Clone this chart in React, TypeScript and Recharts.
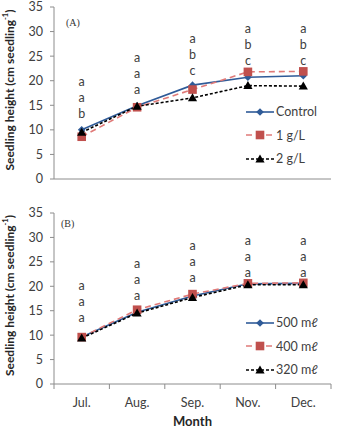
import React from "react";
import {
  Legend,
  Line,
  LineChart,
  XAxis,
  YAxis,
} from "recharts";

const MONTHS = ["Jul.", "Aug.", "Sep.", "Nov.", "Dec."];

// panel A
const CONTROL = [10.0, 14.9, 19.1, 20.7, 21.0];
const G1 = [8.6, 14.6, 18.2, 21.8, 21.9];
const G2 = [9.5, 14.8, 16.5, 19.0, 18.9];
const LETTERS_A = [["a", "a", "b"], ["a", "a", "a"], ["a", "b", "c"], ["a", "b", "c"], ["a", "b", "c"]];
const LETTER_BASE_A = [13.3, 18.2, 22.0, 24.1, 24.1];

// panel B
const ML500 = [9.6, 14.7, 18.0, 20.5, 20.6];
const ML400 = [9.6, 15.2, 18.4, 20.6, 20.7];
const ML320 = [9.4, 14.5, 17.7, 20.3, 20.3];
const LETTERS_B = [["a", "a", "a"], ["a", "a", "a"], ["a", "a", "a"], ["a", "a", "a"], ["a", "a", "a"]];
const LETTER_BASE_B = [13.7, 18.2, 21.8, 22.8, 22.8];

const Y_TICKS = [0, 5, 10, 15, 20, 25, 30, 35];

const FONT = "Lato, 'Open Sans', sans-serif";
const AXIS = "#8c8c8c";
const BOX = "#c8c8c8";
const TXT = "#404040";
const FS = 12.5;

const BLUE = "#2f5b98";
const RED = "#c0504d";
const RED_LINE = "#e07a78";

type Marker = "diamond" | "square" | "triangle";

interface SeriesDef {
  key: string;
  name: string;
  values: number[];
  stroke: string;
  fill: string;
  dash?: string;
  marker: Marker;
}

function drawMarker(marker: Marker, cx: number, cy: number, fill: string, key?: string | number) {
  if (marker === "diamond") {
    const r = 3.8;
    return <path key={key} d={`M${cx},${cy - r}L${cx + r},${cy}L${cx},${cy + r}L${cx - r},${cy}Z`} fill={fill} />;
  }
  if (marker === "square") {
    const r = 4.3;
    return <rect key={key} x={cx - r} y={cy - r} width={2 * r} height={2 * r} fill={fill} />;
  }
  const r = 4.6;
  return <path key={key} d={`M${cx},${cy - r}L${cx + r},${cy + r * 0.75}L${cx - r},${cy + r * 0.75}Z`} fill={fill} />;
}

function LegendBox({ series }: { series: SeriesDef[] }) {
  return (
    <div style={{ fontFamily: FONT, fontSize: FS, color: TXT }}>
      {series.map((s) => (
        <div key={s.key} style={{ display: "flex", alignItems: "center", height: 23.5 }}>
          <svg width={28} height={12} style={{ marginRight: 2 }}>
            <line x1={0} y1={6} x2={28} y2={6} stroke={s.stroke} strokeWidth={1.6} strokeDasharray={s.dash} />
            {drawMarker(s.marker, 14, 6, s.fill)}
          </svg>
          <span>{s.name}</span>
        </div>
      ))}
    </div>
  );
}

function Panel({
  series,
  letters,
  letterBase,
  tag,
  height,
  margin,
  showMonths,
  legendTop,
}: {
  series: SeriesDef[];
  letters: string[][];
  letterBase: number[];
  tag: string;
  height: number;
  margin: { top: number; right: number; bottom: number; left: number };
  showMonths: boolean;
  legendTop: number;
}) {
  const data = MONTHS.map((m, i) => {
    const row: Record<string, number | string> = { m, base: letterBase[i] };
    series.forEach((s) => (row[s.key] = s.values[i]));
    return row;
  });

  const letterLabel = (props: any) => {
    const { x, y, index } = props;
    const ls = letters[index];
    if (!ls) return null;
    return (
      <g>
        {ls.map((l, j) => (
          <text
            key={j}
            x={x}
            y={y - (ls.length - 1 - j) * 16}
            textAnchor="middle"
            dominantBaseline="central"
            fontFamily={FONT}
            fontSize={FS}
            fill={TXT}
          >
            {l}
          </text>
        ))}
      </g>
    );
  };

  const monthTick = (props: any) => {
    const { x, y, payload, index } = props;
    const band = 55.4;
    return (
      <g>
        <line x1={x - band / 2} y1={y} x2={x - band / 2} y2={y + 5} stroke={AXIS} />
        {index === MONTHS.length - 1 && (
          <line x1={x + band / 2} y1={y} x2={x + band / 2} y2={y + 5} stroke={AXIS} />
        )}
        <text x={x} y={y + 18} textAnchor="middle" dominantBaseline="central" fontFamily={FONT} fontSize={FS} fill={TXT}>
          {payload.value}
        </text>
      </g>
    );
  };

  return (
    <div style={{ position: "relative", width: 337, height }}>
      <LineChart width={337} height={height} data={data} margin={margin}>
        <XAxis
          dataKey="m"
          scale="band"
          height={showMonths ? 44 : 1}
          axisLine={{ stroke: AXIS }}
          tickLine={false}
          tickSize={0}
          tickMargin={0}
          tick={showMonths ? monthTick : false}
          interval={0}
          label={
            showMonths
              ? {
                  content: (p: any) => {
                    const vb = p.viewBox;
                    return (
                      <text
                        x={vb.x + vb.width / 2}
                        y={vb.y + 37}
                        textAnchor="middle"
                        dominantBaseline="central"
                        fontFamily={FONT}
                        fontWeight="bold"
                        fontSize={13}
                        fill="#262626"
                      >
                        Month
                      </text>
                    );
                  },
                }
              : undefined
          }
        />
        <XAxis xAxisId="top" dataKey="m" scale="band" orientation="top" height={0} tick={false} tickLine={false} axisLine={{ stroke: BOX }} />
        <YAxis
          domain={[0, 35]}
          ticks={Y_TICKS}
          width={54}
          axisLine={{ stroke: AXIS }}
          tickLine={{ stroke: AXIS }}
          tickSize={4}
          tickMargin={7}
          tick={{ fontFamily: FONT, fontSize: FS, fill: TXT }}
          interval={0}
          label={{
            content: (p: any) => {
              const vb = p.viewBox;
              const cx = 9;
              const cy = vb.y + vb.height / 2 - 3;
              return (
                <text
                  x={cx}
                  y={cy}
                  transform={`rotate(-90 ${cx} ${cy})`}
                  textAnchor="middle"
                  dominantBaseline="central"
                  fontFamily={FONT}
                  fontWeight="bold"
                  fontSize={12}
                  fill="#262626"
                >
                  Seedling height (cm seedling
                  <tspan fontSize={7.5} dy={-4}>-1</tspan>
                  <tspan dy={4}>)</tspan>
                </text>
              );
            },
          }}
        />
        <YAxis yAxisId="right" orientation="right" width={0} domain={[0, 35]} tick={false} tickLine={false} axisLine={{ stroke: BOX }} />
        <Legend
          layout="horizontal"
          verticalAlign="middle"
          align="center"
          wrapperStyle={{ position: "absolute", left: 246, top: legendTop, width: 90 }}
          content={() => <LegendBox series={series} />}
        />
        {series.map((s) => (
          <Line
            key={s.key}
            dataKey={s.key}
            name={s.name}
            stroke={s.stroke}
            strokeWidth={1.6}
            strokeDasharray={s.dash}
            isAnimationActive={false}
            dot={(p: any) => drawMarker(s.marker, p.cx, p.cy, s.fill, p.index)}
            activeDot={false}
          />
        ))}
        <Line
          dataKey="base"
          stroke="none"
          dot={false}
          activeDot={false}
          legendType="none"
          isAnimationActive={false}
          label={letterLabel}
        />
      </LineChart>
      <div
        style={{
          position: "absolute",
          left: tag === "(A)" ? 66 : 61,
          top: tag === "(A)" ? 17 : 23,
          fontFamily: "'Liberation Serif', serif",
          fontSize: 10,
          color: "#333",
        }}
      >
        {tag}
      </div>
    </div>
  );
}

const SERIES_A: SeriesDef[] = [
  { key: "c", name: "Control", values: CONTROL, stroke: BLUE, fill: BLUE, marker: "diamond" },
  { key: "g1", name: "1 g/L", values: G1, stroke: RED_LINE, fill: RED, dash: "6 4", marker: "square" },
  { key: "g2", name: "2 g/L", values: G2, stroke: "#000", fill: "#000", dash: "3 2", marker: "triangle" },
];

const SERIES_B: SeriesDef[] = [
  { key: "a", name: "500 mℓ", values: ML500, stroke: BLUE, fill: BLUE, marker: "diamond" },
  { key: "b", name: "400 mℓ", values: ML400, stroke: RED_LINE, fill: RED, dash: "6 4", marker: "square" },
  { key: "d", name: "320 mℓ", values: ML320, stroke: "#000", fill: "#000", dash: "3 2", marker: "triangle" },
];

export default function App() {
  return (
    <div style={{ position: "absolute", left: 0, top: 0, width: 337, height: 428, background: "#fff" }}>
      <Panel
        series={SERIES_A}
        letters={LETTERS_A}
        letterBase={LETTER_BASE_A}
        tag="(A)"
        height={195}
        margin={{ top: 7, right: 6, bottom: 15, left: 0 }}
        showMonths={false}
        legendTop={100}
      />
      <Panel
        series={SERIES_B}
        letters={LETTERS_B}
        letterBase={LETTER_BASE_B}
        tag="(B)"
        height={233}
        margin={{ top: 18, right: 6, bottom: 0, left: 0 }}
        showMonths={true}
        legendTop={116}
      />
    </div>
  );
}
